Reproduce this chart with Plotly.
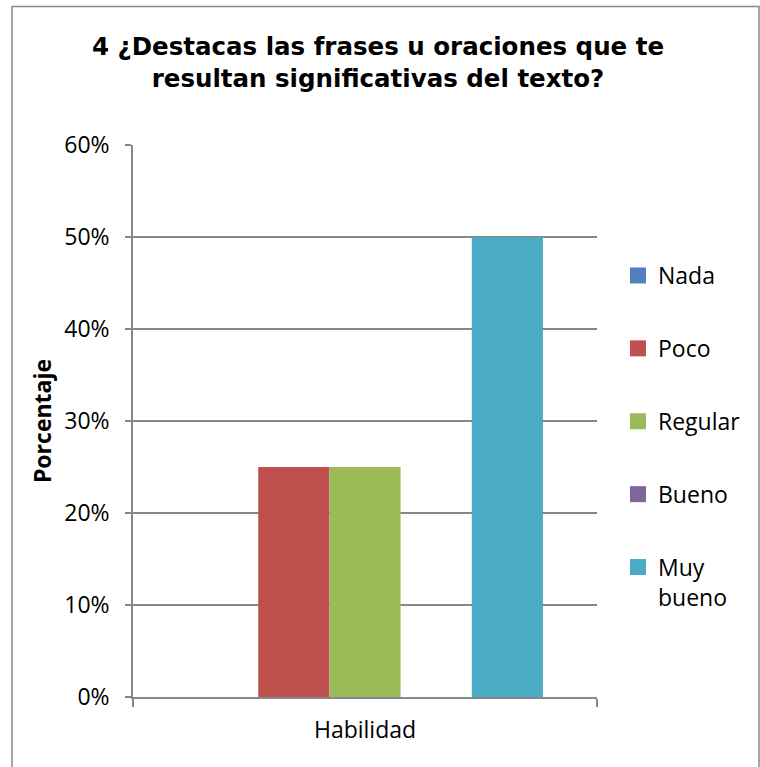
import plotly.graph_objects as go

# Survey answers for question 4, share of responses per rating
categoria = ["Habilidad"]
series = ["Nada", "Poco", "Regular", "Bueno", "Muy<br>bueno"]
valores = [0.0, 0.25, 0.25, 0.0, 0.50]
colores = ["#4F81BD", "#C0504D", "#9BBB59", "#8064A2", "#4BACC6"]
ticks_y = [0, 0.1, 0.2, 0.3, 0.4, 0.5, 0.6]
ticks_y_txt = ["0%", "10%", "20%", "30%", "40%", "50%", "60%"]

W, H = 760, 767
L, R, T, B = 133, 163, 145, 70

fig = go.Figure()
for i, (nombre, v, c) in enumerate(zip(series, valores, colores)):
    fig.add_trace(go.Bar(
        x=categoria, y=[v], name=nombre, marker=dict(color=c, line=dict(width=0)),
        legendgroup=f"g{i}", showlegend=False,
    ))
    # square legend key for each rating
    fig.add_trace(go.Scatter(
        x=[None], y=[None], mode="markers", name=nombre,
        marker=dict(symbol="square", size=16, color=c, line=dict(width=0)),
        legendgroup=f"g{i}", showlegend=True, hoverinfo="skip",
    ))

grid_col = "#878787"
pw, ph = W - L - R, H - T - B
fs = 23

fig.update_layout(
    width=W, height=H,
    margin=dict(l=L, r=R, t=T, b=B, pad=0),
    paper_bgcolor="white", plot_bgcolor="white",
    barmode="group", bargap=0.233, bargroupgap=0,
    font=dict(family="Open Sans", size=fs, color="#000000"),
    title=dict(
        text="4 ¿Destacas las frases u oraciones que te<br>resultan significativas del texto?",
        x=(378 / W), xanchor="center", y=1 - 55 / H, yanchor="middle",
        font=dict(family="DejaVu Sans", size=24.5, color="#000000", weight="bold"),
    ),
    legend=dict(
        x=(618 - L) / pw, xanchor="left", y=(697 - 254) / ph, yanchor="top",
        font=dict(family="Open Sans", size=fs, color="#000000"),
        tracegroupgap=40, valign="top", itemwidth=30, itemsizing="trace",
        bgcolor="rgba(0,0,0,0)",
    ),
    xaxis=dict(
        showline=True, linecolor=grid_col, linewidth=1.5,
        ticks="outside", tickson="boundaries", ticklen=8, tickcolor=grid_col, tickwidth=1.5,
        showgrid=False, ticklabelstandoff=12,
        tickfont=dict(family="Open Sans", size=fs),
    ),
    yaxis=dict(
        range=[0, 0.6], tickvals=ticks_y, ticktext=ticks_y_txt,
        showline=True, linecolor=grid_col, linewidth=1.5,
        ticks="outside", ticklen=6, tickcolor=grid_col, tickwidth=1.5,
        showgrid=True, gridcolor=grid_col, gridwidth=1.5,
        zeroline=False, ticklabelstandoff=11,
        tickfont=dict(family="Open Sans", size=fs),
        title=dict(text="<b>Porcentaje</b>", standoff=6,
                   font=dict(family="Open Sans", size=fs)),
    ),
    showlegend=True,
)

# Chart frame
fig.add_shape(
    type="rect", xref="paper", yref="paper",
    x0=(12 - L) / pw, x1=(759 - L) / pw,
    y0=(697 - 775) / ph, y1=(697 - 6.5) / ph,
    line=dict(color="#898989", width=1.5), fillcolor="rgba(0,0,0,0)", layer="below",
)

fig.write_html("out.html")
